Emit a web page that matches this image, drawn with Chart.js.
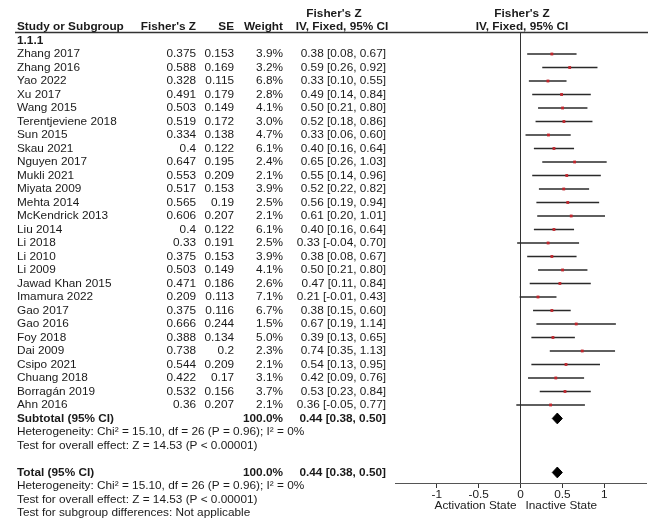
<!DOCTYPE html>
<html>
<head>
<meta charset="utf-8">
<script src="https://cdn.jsdelivr.net/npm/chart.js@4/dist/chart.umd.min.js"></script>
<style>
  html, body { margin: 0; padding: 0; background: #fff; }
  #wrap { width: 650px; height: 523px; position: relative; }
</style>
</head>
<body>
<div id="wrap"><canvas id="forest" width="650" height="523"></canvas></div>
<script>
// study data
const studies = ['Zhang 2017', 'Zhang 2016', 'Yao 2022', 'Xu 2017', 'Wang 2015', 'Terentjeviene 2018',
  'Sun 2015', 'Skau 2021', 'Nguyen 2017', 'Mukli 2021', 'Miyata 2009', 'Mehta 2014', 'McKendrick 2013',
  'Liu 2014', 'Li 2018', 'Li 2010', 'Li 2009', 'Jawad Khan 2015', 'Imamura 2022', 'Gao 2017', 'Gao 2016',
  'Foy 2018', 'Dai 2009', 'Csipo 2021', 'Chuang 2018', 'Borragán 2019', 'Ahn 2016'];
const fisherZ = [0.375, 0.588, 0.328, 0.491, 0.503, 0.519, 0.334, 0.4, 0.647, 0.553, 0.517, 0.565, 0.606,
  0.4, 0.33, 0.375, 0.503, 0.471, 0.209, 0.375, 0.666, 0.388, 0.738, 0.544, 0.422, 0.532, 0.36];
const se = [0.153, 0.169, 0.115, 0.179, 0.149, 0.172, 0.138, 0.122, 0.195, 0.209, 0.153, 0.19, 0.207,
  0.122, 0.191, 0.153, 0.149, 0.186, 0.113, 0.116, 0.244, 0.134, 0.2, 0.209, 0.17, 0.156, 0.207];
const weights = [3.9, 3.2, 6.8, 2.8, 4.1, 3.0, 4.7, 6.1, 2.4, 2.1, 3.9, 2.5, 2.1,
  6.1, 2.5, 3.9, 4.1, 2.6, 7.1, 6.7, 1.5, 5.0, 2.3, 2.1, 3.1, 3.7, 2.1];
const ciLow = [0.08, 0.26, 0.10, 0.14, 0.21, 0.18, 0.06, 0.16, 0.26, 0.14, 0.22, 0.19, 0.20,
  0.16, -0.04, 0.08, 0.21, 0.11, -0.01, 0.15, 0.19, 0.13, 0.35, 0.13, 0.09, 0.23, -0.05];
const ciHigh = [0.67, 0.92, 0.55, 0.84, 0.80, 0.86, 0.60, 0.64, 1.03, 0.96, 0.82, 0.94, 1.01,
  0.64, 0.70, 0.67, 0.80, 0.84, 0.43, 0.60, 1.14, 0.65, 1.13, 0.95, 0.76, 0.84, 0.77];

// pooled results (subtotal and total)
const summaryLabels = ['Subtotal (95% CI)', 'Total (95% CI)'];
const summaryRows = [28, 32];
const summaryEst = [0.44, 0.44];
const summaryLow = [0.38, 0.38];
const summaryHigh = [0.50, 0.50];
const heterogeneity = 'Heterogeneity: Chi\u00b2 = 15.10, df = 26 (P = 0.96); I\u00b2 = 0%';
const overallTest = 'Test for overall effect: Z = 14.53 (P < 0.00001)';
const subgroupTest = 'Test for subgroup differences: Not applicable';

const xTicks = [-1, -0.5, 0, 0.5, 1];

const FONT = '"Liberation Sans", Arial, sans-serif';
const TXT = '#1a1a1a';
const SIZE = 11.8;

const ciSets = studies.map((s, i) => ({
  data: [{ x: ciLow[i], y: i + 1 }, { x: ciHigh[i], y: i + 1 }],
  showLine: true,
  borderColor: '#2a2a2a',
  borderWidth: 1.4,
  pointRadius: 0,
  order: 2
}));

const diamondSets = summaryRows.map((r, k) => ({
  data: [
    { x: summaryLow[k], y: r },
    { x: summaryEst[k], y: r - 0.4 },
    { x: summaryHigh[k], y: r },
    { x: summaryEst[k], y: r + 0.4 },
    { x: summaryLow[k], y: r }
  ],
  showLine: true,
  fill: 'shape',
  backgroundColor: '#000',
  borderColor: '#000',
  borderWidth: 1,
  pointRadius: 0,
  order: 1
}));

const tableText = {
  id: 'tableText',
  afterDraw(chart) {
    const c = chart.ctx;
    const y = chart.scales.y;
    const x = chart.scales.x;
    const rowY = r => y.getPixelForValue(r);
    const put = (t, px, py, align, bold) => {
      c.font = (bold ? 'bold ' : '') + SIZE + 'px ' + FONT;
      c.textAlign = align;
      c.fillText(t, px, py);
    };
    c.save();
    c.fillStyle = TXT;
    c.textBaseline = 'middle';

    // headers
    put("Fisher's Z", 334, 14, 'center', true);
    put("Fisher's Z", 522, 14, 'center', true);
    put('Study or Subgroup', 17, 27, 'left', true);
    put("Fisher's Z", 196, 27, 'right', true);
    put('SE', 234, 27, 'right', true);
    put('Weight', 283, 27, 'right', true);
    put('IV, Fixed, 95% CI', 342, 27, 'center', true);
    put('IV, Fixed, 95% CI', 522, 27, 'center', true);

    c.strokeStyle = '#333';
    c.lineWidth = 1.5;
    c.beginPath();
    c.moveTo(15, 32.5);
    c.lineTo(648, 32.5);
    c.stroke();

    put('1.1.1', 17, rowY(0), 'left', true);

    studies.forEach((s, i) => {
      const py = rowY(i + 1);
      put(s, 17, py, 'left', false);
      put(String(fisherZ[i]), 196, py, 'right', false);
      put(String(se[i]), 234, py, 'right', false);
      put(weights[i].toFixed(1) + '%', 283, py, 'right', false);
      put(fisherZ[i].toFixed(2) + ' [' + ciLow[i].toFixed(2) + ', ' + ciHigh[i].toFixed(2) + ']', 386, py, 'right', false);
    });

    summaryRows.forEach((r, k) => {
      const py = rowY(r);
      put(summaryLabels[k], 17, py, 'left', true);
      put('100.0%', 283, py, 'right', true);
      put(summaryEst[k].toFixed(2) + ' [' + summaryLow[k].toFixed(2) + ', ' + summaryHigh[k].toFixed(2) + ']', 386, py, 'right', true);
      put(heterogeneity, 17, rowY(r + 1), 'left', false);
      put(overallTest, 17, rowY(r + 2), 'left', false);
    });
    put(subgroupTest, 17, rowY(35), 'left', false);

    // favours labels under the axis
    const zero = x.getPixelForValue(0);
    put('Activation State', zero - 4, 506, 'right', false);
    put('Inactive State', zero + 5, 506, 'left', false);
    c.restore();
  }
};

new Chart(document.getElementById('forest'), {
  type: 'scatter',
  data: {
    datasets: [
      {
        data: fisherZ.map((v, i) => ({ x: v, y: i + 1 })),
        pointStyle: 'rect',
        pointRadius: 2,
        backgroundColor: '#c0262d',
        borderWidth: 0,
        order: 0
      },
      ...diamondSets,
      ...ciSets
    ]
  },
  options: {
    responsive: false,
    animation: false,
    layout: { padding: { left: 395, right: 4, top: 32, bottom: 0 } },
    plugins: { legend: { display: false }, tooltip: { enabled: false } },
    scales: {
      x: {
        type: 'linear',
        position: 'bottom',
        min: -1.5,
        max: 1.5,
        afterBuildTicks: s => { s.ticks = xTicks.map(v => ({ value: v })); },
        afterFit: s => { s.height = 40; },
        grid: {
          drawOnChartArea: true,
          color: ctx => (ctx.tick && ctx.tick.value === 0) ? '#333' : 'rgba(0,0,0,0)',
          tickColor: '#333',
          tickLength: 5,
          lineWidth: 1
        },
        border: { display: true, color: '#555', width: 1 },
        ticks: {
          padding: 0,
          color: TXT,
          font: { family: FONT, size: SIZE },
          callback: v => String(v)
        }
      },
      y: {
        type: 'linear',
        reverse: true,
        min: -0.63,
        max: 32.78,
        display: false
      }
    }
  },
  plugins: [tableText]
});
</script>
</body>
</html>
